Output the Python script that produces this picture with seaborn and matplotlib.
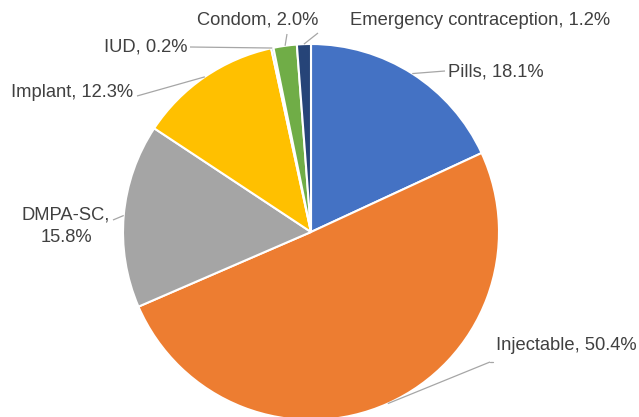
import numpy as np
import matplotlib
matplotlib.use('Agg')
import matplotlib.pyplot as plt
import seaborn as sns

# Data
methods = ['Pills', 'Injectable', 'DMPA-SC', 'Implant', 'IUD', 'Condom',
           'Emergency contraception']
shares = [18.1, 50.4, 15.8, 12.3, 0.2, 2.0, 1.2]
colors = ['#4472C4', '#ED7D31', '#A5A5A5', '#FFC000', '#5B9BD5', '#70AD47', '#264478']

sns.set_theme(style='white')
plt.rcParams['font.family'] = ['Liberation Sans', 'DejaVu Sans']

W, H = 639, 417
fig = plt.figure(figsize=(W / 100, H / 100), dpi=100)
ax = fig.add_axes([0, 0, 1, 1])

# pie geometry in pixel space (y measured from top, flipped below)
cx, cy, R = 311, 232, 188

wedges, _ = ax.pie(shares, colors=colors, startangle=90, counterclock=False,
                   center=(cx, H - cy), radius=R, frame=True,
                   wedgeprops=dict(edgecolor='white', linewidth=1.5))
ax.set_xlim(0, W)
ax.set_ylim(0, H)
ax.set_aspect('equal')
ax.axis('off')

# label layout: (text x, text y, ha, leader end x, leader end y)
layout = {
    'Pills': (448, 72, 'left', 445, 71),
    'Injectable': (496, 346, 'left', 490, 362),
    'DMPA-SC': (66, 226, 'center', 113, 220),
    'Implant': (133, 92, 'right', 137, 96),
    'IUD': (187, 47, 'right', 190, 47),
    'Condom': (258, 20, 'center', 287, 34),
    'Emergency contraception': (350, 20, 'left', 318, 33),
}

for w, name, val in zip(wedges, methods, shares):
    tx, ty, ha, lx, ly = layout[name]
    ang = np.deg2rad((w.theta1 + w.theta2) / 2)
    ax_ = cx + R * np.cos(ang)
    ay_ = (H - cy) + R * np.sin(ang)
    ax.plot([ax_, lx], [ay_, H - ly], color='#A6A6A6', lw=0.9, solid_capstyle='butt')
    if name == 'Injectable':
        ax.plot([lx, lx + 3], [H - ly, H - ly], color='#A6A6A6', lw=0.9)
    label = f'{name},\n{val:.1f}%' if name == 'DMPA-SC' else f'{name}, {val:.1f}%'
    ax.text(tx, H - ty, label, ha=ha, va='center', fontsize=13.2, color='#404040',
            linespacing=1.45)

fig.savefig('out.png', dpi=100, facecolor='white')
